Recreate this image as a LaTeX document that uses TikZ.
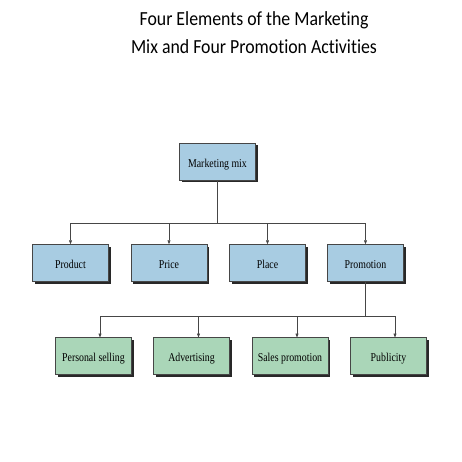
\documentclass[tikz,border=0pt]{standalone}
\usepackage{fontspec}
\setmainfont{Liberation Serif}[FakeStretch=0.82]
\newfontfamily\titlefont{Carlito}[FakeStretch=0.89, Ligatures=NoCommon]
\usetikzlibrary{arrows.meta,calc,shadows}
\definecolor{boxblue}{RGB}{168,204,226}
\definecolor{boxgreen}{RGB}{170,214,184}
\definecolor{edgegray}{RGB}{70,70,70}
\definecolor{shadowc}{RGB}{40,40,40}
\tikzset{
  mixbox/.style={draw=edgegray, line width=0.5pt, fill=boxblue, minimum width=76pt, minimum height=37pt, inner sep=0pt, text height=12pt, text depth=1pt, font=\fontsize{12}{14}\selectfont, drop shadow={shadow xshift=2pt, shadow yshift=-2pt, fill=shadowc, opacity=1}},
  promobox/.style={mixbox, fill=boxgreen},
  link/.style={draw=edgegray, line width=0.6pt},
  arr/.style={link, -{Triangle[length=4pt,width=3pt]}}
}
\begin{document}
\begin{tikzpicture}[x=1pt,y=-1pt]
\useasboundingbox[fill=white] (0,0) rectangle (462,462);
\node[font=\titlefont\fontsize{20}{28}\selectfont, align=center, anchor=north] (title) at (254,8) {Four Elements of the Marketing\\Mix and Four Promotion Activities};
\node[mixbox] (mm) at (217.5,162) {Marketing mix};
\node[mixbox] (product) at (70.5,263) {Product};
\node[mixbox] (price) at (169,263) {Price};
\node[mixbox] (place) at (267.5,263) {Place};
\node[mixbox] (promo) at (365.5,263) {Promotion};
\node[promobox] (ps) at (93.5,356) {Personal selling};
\node[promobox] (adv) at (191.5,356) {Advertising};
\node[promobox] (sp) at (290,356) {Sales promotion};
\node[promobox] (pub) at (388.5,356) {Publicity};
% level 1 connectors
\coordinate (j1) at (217.5,223);
\draw[link] (mm.south) -- (j1);
\draw[link] (70.5,223) -- (365.5,223);
\foreach \n in {product,price,place,promo}{
  \draw[arr] (j1 -| \n.north) -- (\n.north);
}
% level 2 connectors
\coordinate (j2) at (365.5,316);
\draw[link] (promo.south) -- (j2);
\coordinate (d1) at (100,337.5);
\coordinate (d2) at (198.5,337.5);
\coordinate (d3) at (297,337.5);
\coordinate (d4) at (395,337.5);
\draw[link] (j2 -| d1) -- (j2 -| d4);
\foreach \d in {d1,d2,d3,d4}{
  \draw[arr] (j2 -| \d) -- (\d);
}
\end{tikzpicture}
\end{document}
